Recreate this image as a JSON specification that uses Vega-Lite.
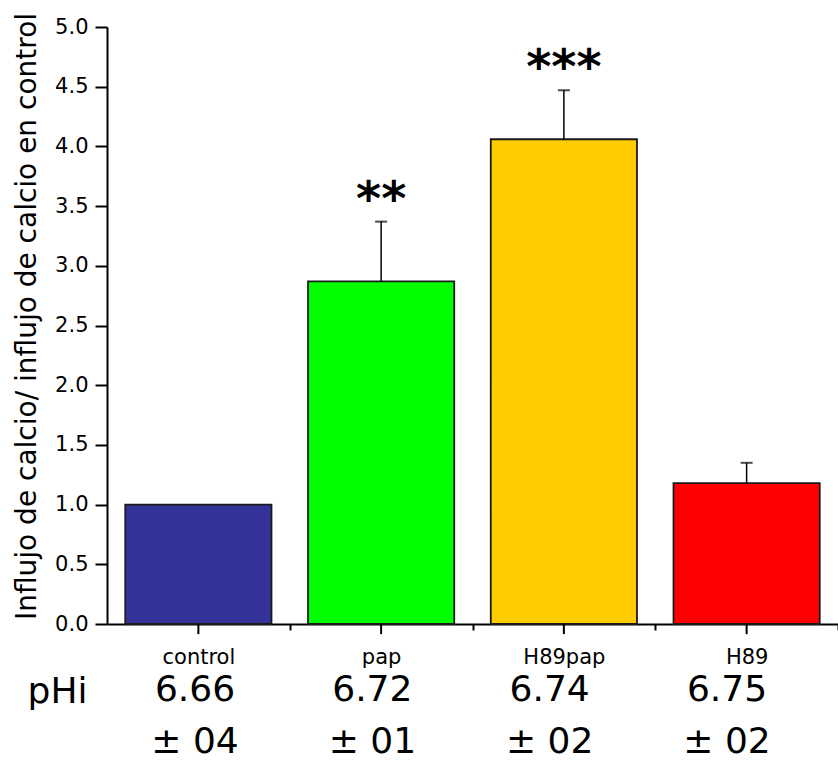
{
  "$schema": "https://vega.github.io/schema/vega-lite/v6.json",
  "width": 731,
  "height": 597,
  "autosize": "none",
  "padding": {"left": 107, "top": 27, "right": 0, "bottom": 136},
  "background": "white",
  "config": {"view": {"stroke": null}, "font": "DejaVu Sans"},
  "data": {"values": [
    {"cat": "control", "mean": 1.0, "upper": null, "sig": "", "ph": "6.66", "phsd": "± 04"},
    {"cat": "pap", "mean": 2.87, "upper": 3.37, "sig": "**", "ph": "6.72", "phsd": "± 01"},
    {"cat": "H89pap", "mean": 4.06, "upper": 4.47, "sig": "***", "ph": "6.74", "phsd": "± 02"},
    {"cat": "H89", "mean": 1.18, "upper": 1.35, "sig": "", "ph": "6.75", "phsd": "± 02"}
  ]},
  "layer": [
    {
      "encoding": {
        "x": {
          "field": "cat", "type": "nominal",
          "sort": ["control", "pap", "H89pap", "H89"],
          "scale": {"paddingInner": 0.2, "paddingOuter": 0.1},
          "axis": {
            "title": "pHi", "titleX": -50, "titleY": 67, "titleFontSize": 36, "titleFontWeight": "normal",
            "titleAlign": "center", "titleBaseline": "middle", "titleColor": "black",
            "labelFontSize": 21, "labelPadding": 16, "labelColor": "black", "labelAngle": 0,
            "tickOffset": 91.375, "labelOffset": -91.375,
            "tickSize": 6, "tickWidth": 2, "tickColor": "black",
            "domainWidth": 2, "domainColor": "black"
          }
        }
      },
      "layer": [
        {
          "mark": {"type": "bar", "stroke": "#1a1a1a", "strokeWidth": 1.8},
          "encoding": {
            "y": {
              "field": "mean", "type": "quantitative",
              "scale": {"domain": [0, 5], "nice": false, "clamp": false},
              "axis": {
                "title": "Influjo de calcio/ influjo de calcio en control",
                "titleFontSize": 28, "titleFontWeight": "normal", "titleColor": "black",
                "titleX": -72, "titleY": 289, "titleAngle": -90, "titleAlign": "center", "titleBaseline": "alphabetic",
                "values": [0, 0.25, 0.5, 0.75, 1, 1.25, 1.5, 1.75, 2, 2.25, 2.5, 2.75, 3, 3.25, 3.5, 3.75, 4, 4.25, 4.5, 4.75, 5],
                "labelExpr": "(datum.value * 2) % 1 == 0 ? format(datum.value, '.1f') : ''",
                "labelFontSize": 21, "labelColor": "black", "labelPadding": 7,
                "tickSize": {"condition": {"test": "(datum.value * 2) % 1 == 0", "value": 12}, "value": 7},
                "tickWidth": 2, "tickColor": "black", "domainWidth": 2, "domainColor": "black",
                "grid": false
              }
            },
            "color": {
              "field": "cat", "type": "nominal",
              "scale": {"domain": ["control", "pap", "H89pap", "H89"], "range": ["#333399", "#00ff00", "#ffcc00", "#ff0000"]},
              "legend": null
            }
          }
        },
        {
          "transform": [{"filter": "datum.upper != null"}],
          "mark": {"type": "rule", "color": "black", "strokeWidth": 1.5},
          "encoding": {"y": {"field": "mean", "type": "quantitative"}, "y2": {"field": "upper"}}
        },
        {
          "transform": [{"filter": "datum.upper != null"}],
          "mark": {"type": "tick", "orient": "horizontal", "color": "black", "size": 12, "thickness": 2},
          "encoding": {"y": {"field": "upper", "type": "quantitative"}}
        },
        {
          "mark": {"type": "rule", "color": "black", "strokeWidth": 2},
          "encoding": {"y": {"datum": 0}, "y2": {"datum": -0.085}}
        },
        {
          "transform": [{"filter": "datum.upper != null"}],
          "mark": {"type": "text", "fontSize": 48, "fontWeight": "bold", "baseline": "middle", "dy": -21, "color": "black"},
          "encoding": {"y": {"field": "upper", "type": "quantitative"}, "text": {"field": "sig"}}
        }
      ]
    },
    {
      "encoding": {
        "x": {
          "field": "cat", "type": "nominal",
          "sort": ["control", "pap", "H89pap", "H89"],
          "scale": {"type": "point", "range": [88, 620], "padding": 0},
          "axis": null
        }
      },
      "layer": [
        {
          "mark": {"type": "text", "fontSize": 36, "baseline": "middle", "color": "black"},
          "encoding": {"y": {"datum": -0.553}, "text": {"field": "ph"}}
        },
        {
          "mark": {"type": "text", "fontSize": 36, "baseline": "middle", "color": "black"},
          "encoding": {"y": {"datum": -0.99}, "text": {"field": "phsd"}}
        }
      ]
    }
  ],
  "resolve": {"scale": {"x": "independent"}}
}
